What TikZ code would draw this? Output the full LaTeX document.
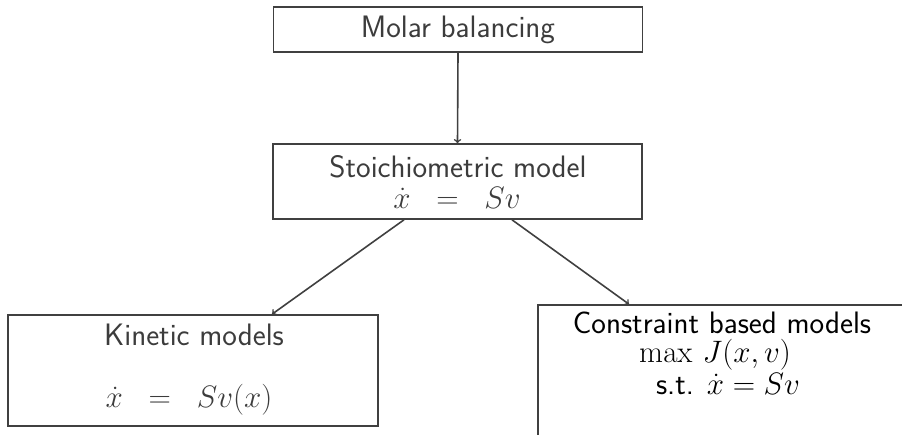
\documentclass[tikz,border=0pt]{standalone}
\usepackage{fix-cm}
\usetikzlibrary{calc}
\definecolor{txtgray}{HTML}{3C3C3C}
\definecolor{linegray}{HTML}{404040}
\begin{document}
\begin{tikzpicture}[x=1pt,y=-1pt,
  box/.style={draw=linegray,line width=1.6pt,rectangle,inner sep=0pt},
  lbl/.style={anchor=base,inner sep=0pt,text=txtgray,font=\fontsize{31}{37}\selectfont\sffamily},
  lblk/.style={lbl,text=black},
  conn/.style={draw=linegray,line width=1.6pt,->}]
\useasboundingbox (0,0) rectangle (902,434);
\clip (0,0) rectangle (902,434);
\node[box,minimum width=369pt,minimum height=45pt] (top) at (458,29.5) {};
\node[box,minimum width=369pt,minimum height=75pt] (mid) at (457.5,181.5) {};
\node[box,minimum width=370pt,minimum height=111pt] (left) at (193,370.5) {};
\node[box,minimum width=368pt,minimum height=154pt] (right) at (722,382) {};
\node[lbl] (t1) at (458,37) {Molar balancing};
\node[lbl] (t2) at (458,177) {Stoichiometric model};
\node[lbl] (t3) at (457,208) {$\dot x\mkern10mu=\mkern10mu Sv$};
\node[lbl] (t4) at (194,345) {Kinetic models};
\node[lbl] (t5) at (189,407) {$\dot x\mkern10mu=\mkern10mu Sv(x)$};
\node[lblk] (t6) at (722,333) {Constraint based models};
\node[lblk] (t7) at (715,362) {$\max\,J(x,v)$};
\node[lblk] (t8) at (728,394) {s.t. $\dot x=Sv$};
\draw[conn] (top.south) -- (mid.north);
\draw[conn] ($(mid.south)+(-53.5,0)$) -- ($(left.north)+(79,0)$);
\draw[conn] ($(mid.south)+(54.5,0)$) -- ($(right.north)+(-93,0)$);
\end{tikzpicture}
\end{document}
